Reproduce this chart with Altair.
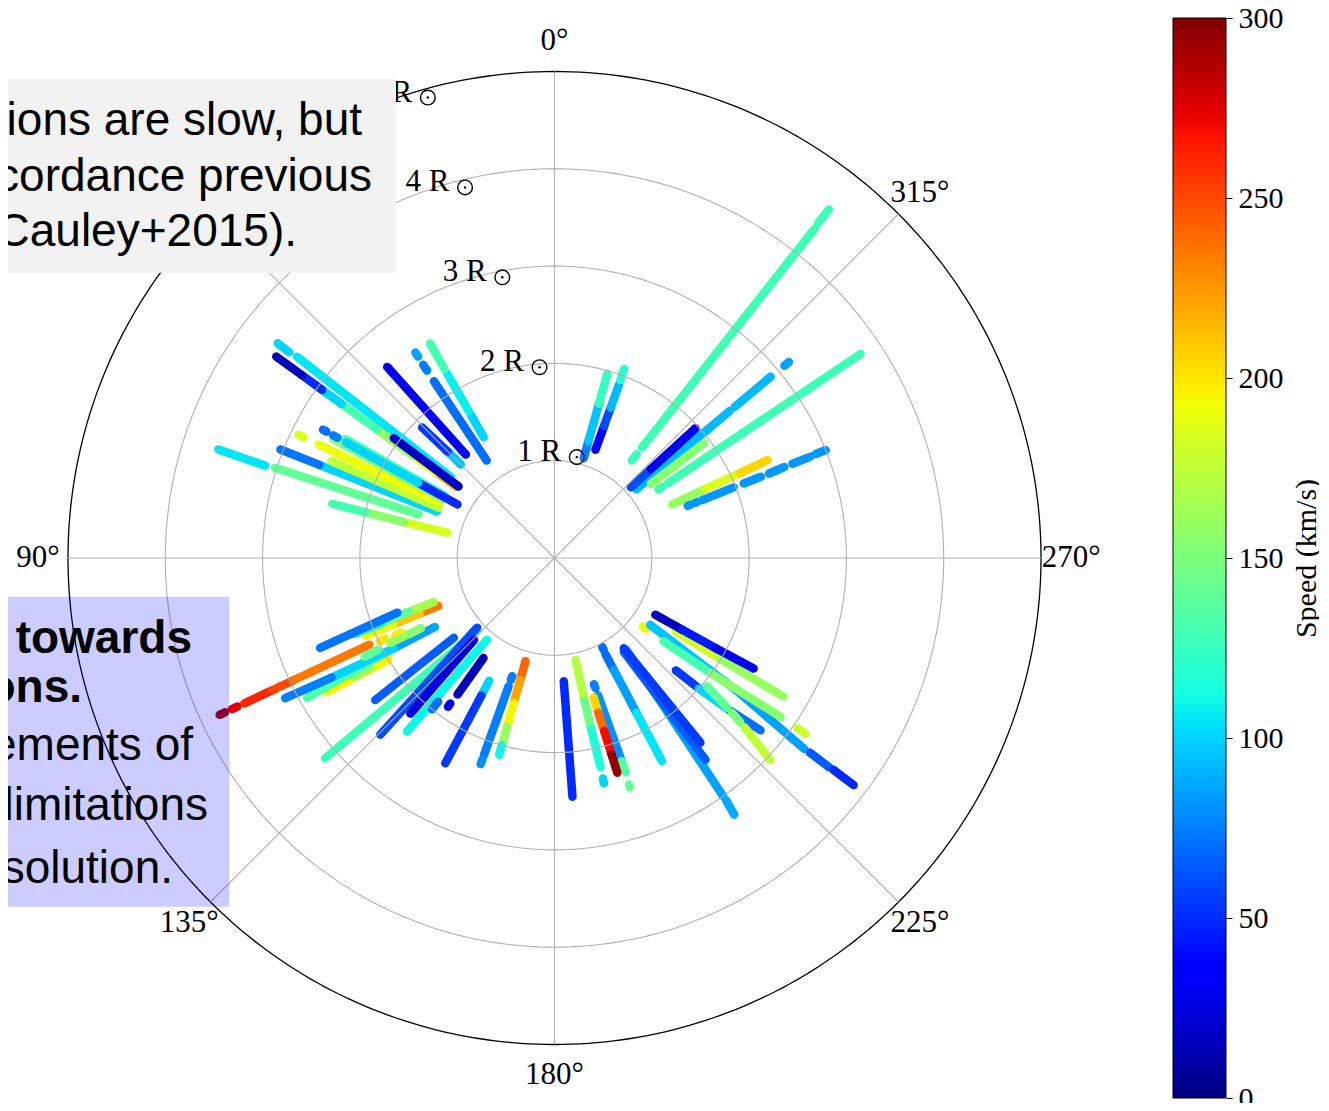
import pandas as pd
import altair as alt

# ---------------- data (position angle in deg, counter-clockwise from north;
# height in solar radii; speed in km/s).  Each row: pa_in, r_in, pa_out, r_out, speed
UPPER_RIGHT = [
    (321.6, 1.28, 321.6, 1.36, 126), (321.6, 1.45, 321.7, 4.32, 128), (321.8, 4.38, 321.8, 4.56, 128),
    (343.7, 1.07, 343.8, 1.25, 75), (343.8, 1.25, 343.9, 1.65, 95), (343.9, 1.65, 344.0, 1.97, 125),
    (339.3, 1.19, 339.4, 1.45, 30), (339.4, 1.45, 339.5, 1.65, 60), (339.5, 1.65, 339.6, 1.90, 92),
    (339.7, 1.95, 339.8, 2.07, 118),
    (310.0, 1.10, 310.0, 2.35, 92), (310.0, 2.42, 310.0, 2.90, 92), (309.9, 3.08, 309.9, 3.14, 85),
    (312.8, 1.07, 312.7, 1.35, 60), (312.7, 1.35, 312.6, 1.97, 28),
    (307.5, 1.25, 307.5, 1.94, 155),
    (303.4, 1.28, 303.4, 1.33, 128), (303.4, 1.40, 303.7, 3.78, 128),
    (294.5, 1.33, 294.6, 1.70, 160), (294.6, 1.70, 294.6, 2.10, 185), (294.6, 2.10, 294.7, 2.41, 205),
    (291.4, 1.47, 291.4, 1.50, 82), (291.4, 1.55, 291.4, 1.58, 82), (291.4, 1.63, 291.5, 1.98, 82),
    (291.5, 2.09, 291.5, 2.28, 82), (291.5, 2.37, 291.6, 2.54, 82), (291.6, 2.63, 291.6, 2.83, 82),
    (291.7, 2.89, 291.7, 3.00, 82),
]
UPPER_LEFT = [
    (30.4, 1.44, 30.3, 1.70, 100), (30.3, 1.75, 30.2, 2.20, 108), (30.2, 2.25, 30.1, 2.55, 130),
    (34.8, 1.22, 34.3, 2.20, 70), (34.2, 2.33, 34.2, 2.40, 75), (34.1, 2.50, 34.1, 2.55, 85),
    (40.6, 1.40, 41.2, 2.61, 28),
    (45.1, 1.36, 45.1, 1.55, 95), (45.1, 1.55, 45.4, 1.91, 55),
    (72.3, 3.12, 72.1, 3.63, 105),
    (72.2, 1.47, 72.1, 3.02, 140),
    (76.7, 1.13, 76.6, 1.60, 182), (76.6, 1.60, 76.4, 2.00, 155), (76.4, 2.00, 76.3, 2.35, 130),
    (68.4, 1.30, 68.4, 2.60, 100), (68.4, 2.60, 68.4, 3.03, 72),
    (66.5, 1.30, 66.5, 2.50, 175),
    (64.0, 1.31, 64.3, 2.69, 192), (64.3, 2.86, 64.3, 2.92, 185),
    (62.0, 1.30, 61.7, 2.58, 150),
    (60.4, 1.30, 60.4, 2.47, 128),
    (61.1, 1.14, 61.1, 1.60, 50), (61.1, 1.60, 61.0, 2.45, 100), (61.0, 2.55, 61.0, 2.60, 75),
    (61.0, 2.68, 61.0, 2.72, 70),
    (52.0, 1.35, 52.0, 3.36, 105), (52.2, 3.45, 52.2, 3.60, 100),
    (54.1, 1.25, 54.1, 1.50, 215), (54.1, 1.50, 54.1, 1.80, 190), (54.1, 1.80, 54.1, 2.25, 160),
    (54.1, 2.25, 54.1, 2.70, 130), (54.1, 2.70, 54.1, 2.95, 100), (54.1, 2.95, 54.1, 3.20, 50),
    (54.1, 3.20, 54.1, 3.53, 15),
    (53.3, 1.23, 53.3, 2.06, 18),
]
LOWER_LEFT = [
    (115.1, 3.74, 115.1, 3.80, 290), (115.1, 3.60, 115.1, 3.66, 275), (115.1, 3.20, 115.1, 3.52, 262),
    (115.1, 2.95, 115.1, 3.20, 250), (115.1, 2.10, 115.1, 2.95, 235), (115.5, 1.93, 115.5, 1.99, 200),
    (116.0, 1.75, 116.0, 1.82, 198),
    (112.4, 1.29, 112.4, 1.50, 235), (112.4, 1.50, 112.4, 1.80, 210), (112.4, 1.80, 112.4, 2.10, 190),
    (110.0, 1.32, 110.3, 1.60, 165), (110.3, 1.60, 110.6, 1.90, 140), (110.6, 1.90, 110.8, 2.20, 110),
    (109.2, 1.71, 111.0, 2.58, 72),
    (121.5, 2.00, 120.5, 2.71, 195), (120.7, 2.20, 120.7, 2.40, 160),
    (119.1, 1.58, 119.5, 2.92, 132),
    (120.0, 1.42, 119.3, 1.90, 85), (119.3, 1.90, 118.2, 2.60, 100), (118.2, 2.60, 117.5, 3.12, 75),
    (117.7, 1.55, 117.6, 1.70, 155), (117.5, 1.75, 117.3, 1.90, 160), (117.5, 2.05, 117.5, 2.20, 140),
    (133.4, 1.10, 131.1, 3.13, 128),
    (128.4, 1.32, 128.4, 2.35, 65),
    (132.0, 1.07, 135.4, 2.55, 60),
    (140.4, 1.09, 139.6, 2.34, 110),
    (135.5, 1.18, 137.2, 2.18, 25),
    (144.6, 1.26, 144.6, 1.72, 15), (144.4, 1.84, 144.4, 1.88, 30),
    (141.0, 1.90, 141.0, 2.00, 70),
]
LOWER_MID = [
    (152.0, 1.43, 152.0, 1.60, 100), (152.0, 1.60, 152.0, 2.39, 55),
    (160.3, 1.29, 160.3, 1.33, 75), (160.3, 1.40, 160.3, 2.15, 75), (160.3, 2.20, 160.3, 2.25, 80),
    (164.3, 1.10, 164.3, 1.30, 240), (164.3, 1.30, 164.3, 1.55, 222), (164.3, 1.55, 164.3, 1.80, 195),
    (164.3, 1.80, 164.3, 2.00, 160), (164.3, 2.00, 164.3, 2.10, 110),
    (184.3, 1.27, 184.3, 2.46, 50),
    (191.7, 1.07, 191.9, 1.50, 170), (191.9, 1.50, 192.1, 1.80, 145), (192.1, 1.80, 192.4, 2.20, 115),
    (192.4, 2.32, 192.4, 2.37, 100),
    (197.3, 1.36, 197.5, 1.40, 75), (197.6, 1.48, 198.3, 2.20, 80), (198.3, 2.20, 198.4, 2.32, 135),
    (198.2, 2.45, 198.2, 2.48, 140),
    (195.7, 1.49, 195.8, 1.65, 205), (195.8, 1.65, 196.0, 1.85, 240), (196.0, 1.85, 196.2, 2.10, 270),
    (196.2, 2.10, 196.3, 2.30, 295),
    (208.2, 1.04, 208.2, 1.07, 70), (207.9, 1.12, 207.9, 1.30, 70), (207.9, 1.30, 207.9, 1.80, 85),
    (207.9, 1.80, 207.9, 2.36, 105),
]
LOWER_RIGHT = [
    (218.0, 1.20, 215.3, 3.00, 85), (215.3, 3.05, 215.0, 3.22, 88),
    (216.5, 1.20, 216.8, 2.59, 65),
    (217.5, 1.17, 218.3, 2.42, 55),
    (227.2, 1.70, 227.9, 2.00, 55), (227.9, 2.00, 229.0, 2.40, 100), (229.0, 2.40, 230.1, 2.76, 70),
    (229.9, 2.05, 229.1, 2.35, 140), (228.9, 2.42, 228.5, 2.55, 150), (228.3, 2.62, 226.9, 3.04, 175),
    (232.2, 1.15, 232.2, 1.19, 190),
    (235.1, 1.20, 234.0, 2.30, 95), (234.0, 2.30, 232.6, 3.23, 85), (232.7, 3.30, 232.7, 3.55, 65),
    (232.8, 3.60, 232.8, 3.86, 50),
    (232.6, 1.41, 233.6, 2.00, 130), (233.6, 2.00, 234.9, 2.84, 155),
    (235.0, 3.05, 235.0, 3.15, 178),
    (238.7, 1.46, 238.7, 2.00, 182), (238.7, 2.00, 238.8, 2.75, 160),
    (240.6, 1.19, 240.7, 1.50, 15), (240.7, 1.50, 240.8, 1.90, 45), (240.8, 1.90, 241.0, 2.34, 28),
]

# colormap (matplotlib "jet" break points) and ticks
JET_SPEEDS = [0, 33, 37.5, 102, 105, 112.5, 192, 195, 198, 267, 273, 300]
JET_COLORS = ["#000080", "#0000FF", "#0000FF", "#00DBFF", "#00E6F7", "#15FFE2",
              "#EEFF08", "#F7F600", "#FFEC00", "#FF1300", "#E80000", "#800000"]
SPEED_TICKS = [0, 50, 100, 150, 200, 250, 300]
SPOKE_ANGLES = [0, 45, 90, 135, 180, 225, 270, 315]
# the 45° label sits under the grey text box in the reference, so it is not drawn
LABELED_ANGLES = [0, 90, 135, 180, 225, 270, 315]
ANGLE_LABELS = ["0°", "90°", "135°", "180°", "225°", "270°", "315°"]
RING_RADII = [1, 2, 3, 4]
OUTER_RADIUS = 5
RADIAL_TICKS = [1, 2, 3, 4, 5]
RADIAL_LABELS = ["1 R", "2 R", "3 R", "4 R", "5 R"]
RADIAL_LABEL_PA = 22.5

GRAY_BOX_LINES = ["ions are slow, but", "cordance previous", "Cauley+2015)."]
BLUE_BOX_LINES = ["towards", "ons.", "ements of", "limitations", "solution."]

# ---------------- layout / style
PX_PER_RSUN = 97.3
W, H = 1093, 1080
XD, YD = W / 2 / PX_PER_RSUN, H / 2 / PX_PER_RSUN
LABEL_R = 5.31
SERIF = "Liberation Serif"
SANS = "Liberation Sans"
GRID = "#b0b0b0"

xs = alt.Scale(domain=[-XD, XD], nice=False, zero=False)
ys = alt.Scale(domain=[-YD, YD], nice=False, zero=False)


def X(f):
    return alt.X(f, type="quantitative", scale=xs, axis=None)


def Y(f):
    return alt.Y(f, type="quantitative", scale=ys, axis=None)


def polar_xy(r, pa, xname="x", yname="y"):
    return {xname: f"-({r})*sin(({pa})*PI/180)", yname: f"({r})*cos(({pa})*PI/180)"}


tracks = pd.DataFrame(UPPER_RIGHT + UPPER_LEFT + LOWER_LEFT + LOWER_MID + LOWER_RIGHT,
                      columns=["pa1", "r1", "pa2", "r2", "speed"])

cscale = alt.Scale(domain=JET_SPEEDS, range=JET_COLORS, interpolate="rgb")

track_layer = alt.Chart(tracks).transform_calculate(
    **polar_xy("datum.r1", "datum.pa1", "x1", "y1"),
    **polar_xy("datum.r2", "datum.pa2", "x2", "y2"),
).mark_rule(strokeWidth=8.5, strokeCap="round").encode(
    x=X("x1"), y=Y("y1"), x2="x2:Q", y2="y2:Q",
    color=alt.Color("speed:Q", scale=cscale, legend=None),
)

ring_expr = "[" + ",".join(str(r) for r in RING_RADII) + "]"
rings = alt.Chart(alt.sequence(0, 361, 1, as_="deg")).transform_calculate(
    ring=ring_expr
).transform_flatten(["ring"]).transform_calculate(
    **polar_xy("datum.ring", "datum.deg")
).mark_line(color=GRID, strokeWidth=1.1).encode(
    x=X("x"), y=Y("y"), detail="ring:Q", order=alt.Order("deg:Q")
)

outer = alt.Chart(alt.sequence(0, 361, 1, as_="deg")).transform_calculate(
    ring=str(OUTER_RADIUS)
).transform_calculate(
    **polar_xy("datum.ring", "datum.deg")
).mark_line(color="black", strokeWidth=1.3).encode(
    x=X("x"), y=Y("y"), order=alt.Order("deg:Q")
)

spokes = alt.Chart(pd.DataFrame({"pa": SPOKE_ANGLES})).transform_calculate(
    x0="0", y0="0", **polar_xy(str(OUTER_RADIUS), "datum.pa")
).mark_rule(color=GRID, strokeWidth=1.1).encode(
    x=X("x0"), y=Y("y0"), x2="x:Q", y2="y:Q"
)

angle_text = alt.Chart(pd.DataFrame({"pa": LABELED_ANGLES, "label": ANGLE_LABELS})).transform_calculate(
    **polar_xy(str(LABEL_R), "datum.pa")
).mark_text(font=SERIF, fontSize=31, color="black", align="center", baseline="middle").encode(
    x=X("x"), y=Y("y"), text="label:N"
)

rad_df = pd.DataFrame({"r": RADIAL_TICKS, "label": RADIAL_LABELS})
rad_base = alt.Chart(rad_df).transform_calculate(**polar_xy("datum.r", str(RADIAL_LABEL_PA)))
rad_text = rad_base.mark_text(font=SERIF, fontSize=31, color="black", align="left",
                              baseline="bottom").encode(x=X("x"), y=Y("y"), text="label:N")
sun_ring = rad_base.mark_point(shape="circle", filled=False, size=215, strokeWidth=1.4,
                               color="black", opacity=1, xOffset=59.5, yOffset=-11).encode(
    x=X("x"), y=Y("y"))
sun_dot = rad_base.mark_point(shape="circle", filled=True, size=6, color="black", opacity=1,
                              xOffset=59.5, yOffset=-11).encode(x=X("x"), y=Y("y"))

one = pd.DataFrame({"a": [0]})


def box(x, x2, y, y2, **kw):
    return alt.Chart(one).mark_rect(**kw).encode(
        x=alt.value(x), x2=alt.value(x2), y=alt.value(y), y2=alt.value(y2))


def line(text, xr, yb, bold=False):
    return alt.Chart(one).mark_text(
        text=text, align="right", baseline="alphabetic", font=SANS, fontSize=46,
        fontWeight="bold" if bold else "normal", color="black", clip=True,
    ).encode(x=alt.value(xr), y=alt.value(yb))


# translucent blue panel (lets the grid and the outer circle show through)
blue_box = box(0, 221.3, 578.7, 888.7, fill="#0000FF", opacity=0.2)
blue_lines = [
    line(BLUE_BOX_LINES[0], 184, 635, True),
    line(BLUE_BOX_LINES[1], 74, 684, True),
    line(BLUE_BOX_LINES[2], 185, 742),
    line(BLUE_BOX_LINES[3], 200, 802),
    line(BLUE_BOX_LINES[4], 165, 865),
]
gray_box = box(0, 388, 61, 254.7, fill="#F2F2F2", opacity=1)
gray_lines = [
    line(GRAY_BOX_LINES[0], 354, 117),
    line(GRAY_BOX_LINES[1], 364, 173),
    line(GRAY_BOX_LINES[2], 289, 228),
]

polar = alt.layer(
    track_layer, rings, outer, spokes, angle_text, rad_text, sun_ring, sun_dot,
    blue_box, *blue_lines, gray_box, *gray_lines,
).properties(width=W, height=H)

# ---------------- colour bar
cb = pd.DataFrame({"lo": [SPEED_TICKS[0]], "hi": [SPEED_TICKS[-1]]})
grad = alt.LinearGradient(
    gradient="linear",
    stops=[alt.GradientStop(offset=s / SPEED_TICKS[-1], color=c) for s, c in zip(JET_SPEEDS, JET_COLORS)],
    x1=0, x2=0, y1=1, y2=0,
)
cbar = alt.Chart(cb).mark_rect(fill=grad, stroke="black", strokeWidth=1).encode(
    x=alt.value(0), x2=alt.value("width"),
    y=alt.Y("lo:Q", scale=alt.Scale(domain=[SPEED_TICKS[0], SPEED_TICKS[-1]], nice=False, zero=False),
            axis=alt.Axis(orient="right", values=SPEED_TICKS, title="Speed (km/s)",
                          titleFont=SERIF, titleFontSize=30, titleFontWeight="normal",
                          titleColor="black", titleAngle=270, titleBaseline="top",
                          titlePadding=8, labelFont=SERIF, labelFontSize=30,
                          labelColor="black", labelPadding=6, tickSize=6, tickColor="black",
                          tickWidth=1, domain=False, grid=False, labelFlush=False,
                          labelOverlap=False)),
    y2="hi:Q",
).properties(width=53, height=1080)

chart = alt.hconcat(polar, cbar, spacing=72, bounds="flush").properties(
    padding={"left": 0, "top": -5, "right": -2, "bottom": -10}
).configure_view(stroke=None, strokeWidth=0)

chart.save("out.html", embed_options={"renderer": "svg", "actions": False})
